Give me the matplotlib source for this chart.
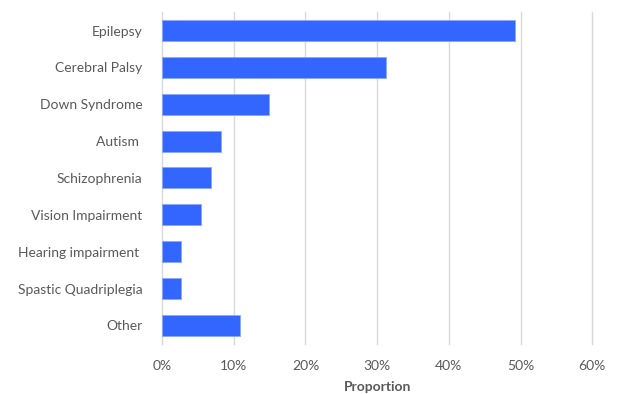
import matplotlib.pyplot as plt
from matplotlib.ticker import PercentFormatter

conditions = ["Epilepsy", "Cerebral Palsy", "Down Syndrome", "Autism ", "Schizophrenia",
              "Vision Impairment", "Hearing impairment ", "Spastic Quadriplegia", "Other"]
proportion = [0.492, 0.313, 0.149, 0.082, 0.068, 0.054, 0.027, 0.027, 0.109]

plt.rcParams['font.family'] = ['Lato', 'DejaVu Sans']

fig = plt.figure(figsize=(6.17, 3.94), dpi=100)
ax = fig.add_axes([0.2626, 0.1274, 0.6974, 0.8419])

y = range(len(conditions))
ax.barh(y, proportion, height=0.57, color='#3366ff', edgecolor='#8aa8ff', linewidth=0.6, zorder=3)

ax.set_xlim(0, 0.6)
ax.set_ylim(len(conditions) - 0.5, -0.5)
ax.set_yticks(list(y))
ax.set_yticklabels(conditions, fontsize=10, color='#595959')
ax.set_xticks([0, 0.1, 0.2, 0.3, 0.4, 0.5, 0.6])
ax.xaxis.set_major_formatter(PercentFormatter(1.0, decimals=0))
ax.tick_params(axis='x', labelsize=10, labelcolor='#595959', length=0, pad=12)
ax.tick_params(axis='y', length=0, pad=14)
ax.grid(axis='x', color='#d9d9d9', linewidth=1, zorder=0)
for line in ax.get_xgridlines():
    line.set_clip_on(False)
for s in ax.spines.values():
    s.set_visible(False)

ax.set_xlabel("Proportion", fontsize=10, fontweight='bold', color='#595959', labelpad=6)

plt.savefig("out.png", dpi=100)
